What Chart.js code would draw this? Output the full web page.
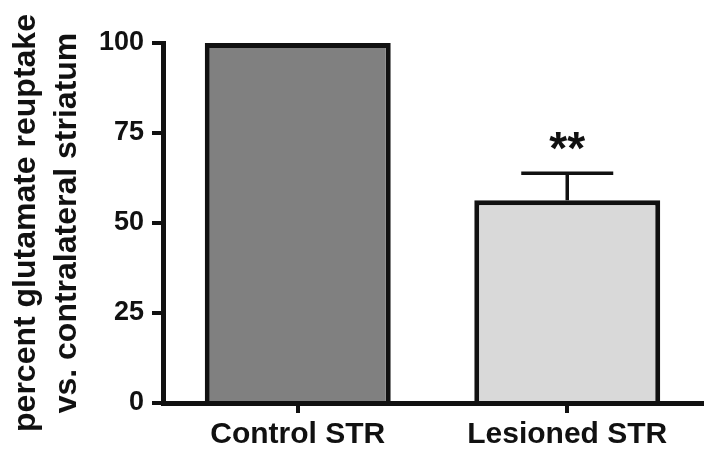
<!DOCTYPE html>
<html>
<head>
<meta charset="utf-8">
<script src="https://cdn.jsdelivr.net/npm/chart.js@4"></script>
<style>
  html, body { margin: 0; padding: 0; background: #fff; }
  #wrap { width: 714px; height: 458px; }
</style>
</head>
<body>
<div id="wrap"><canvas id="uptake"></canvas></div>
<script>
var categories = ['Control STR', 'Lesioned STR'];
var values = [100, 56.3];
var errors = [0, 7.5];
var marks = ['', '**'];
var barColors = ['#808080', '#d9d9d9'];
var yTicks = [0, 25, 50, 75, 100];
var yTitle = ['percent glutamate reuptake', 'vs. contralateral striatum'];

var ink = '#111111';

// error bars and significance stars, placed through the chart's scales
var errorBars = {
    id: 'errorBars',
    afterDatasetsDraw: function (chart) {
        var ctx = chart.ctx;
        var xs = chart.scales.x, ys = chart.scales.y;
        ctx.save();
        ctx.strokeStyle = ink;
        ctx.fillStyle = ink;
        ctx.lineWidth = 3.5;
        for (var i = 0; i < values.length; i++) {
            var cx = xs.getPixelForValue(i);
            var top = ys.getPixelForValue(values[i] + errors[i]);
            if (errors[i] > 0) {
                ctx.beginPath();
                ctx.moveTo(cx, ys.getPixelForValue(values[i]));
                ctx.lineTo(cx, top);
                ctx.moveTo(cx - 46, top);
                ctx.lineTo(cx + 46, top);
                ctx.stroke();
            }
            if (marks[i]) {
                ctx.font = 'bold 46px "Liberation Sans", Arial, sans-serif';
                ctx.textAlign = 'center';
                ctx.textBaseline = 'alphabetic';
                ctx.fillText(marks[i], cx, top - 9);
            }
        }
        ctx.restore();
    }
};

Chart.defaults.font.family = '"Liberation Sans", Arial, sans-serif';
Chart.defaults.color = ink;

var ctx = document.getElementById('uptake');
var myChart = new Chart(ctx, {
    type: 'bar',
    data: {
        labels: categories,
        datasets: [{
            data: values,
            backgroundColor: barColors,
            borderColor: ink,
            borderWidth: 5,
            borderSkipped: 'bottom',
            barPercentage: 0.69,
            categoryPercentage: 1.0
        }]
    },
    options: {
        responsive: true,
        maintainAspectRatio: false,
        animation: false,
        layout: { padding: { top: 43, right: 12, left: 0, bottom: 0 } },
        plugins: {
            legend: { display: false },
            tooltip: { enabled: false }
        },
        scales: {
            x: {
                grid: {
                    display: true,
                    drawOnChartArea: false,
                    offset: false,
                    tickLength: 10,
                    lineWidth: 4,
                    color: ink
                },
                border: { display: true, width: 5, color: ink },
                ticks: {
                    padding: 4,
                    font: { size: 30, weight: 'bold' },
                    color: ink
                },
                afterFit: function (scale) { scale.height = 55; }
            },
            y: {
                min: 0,
                max: 100,
                afterBuildTicks: function (scale) {
                    scale.ticks = yTicks.map(function (v) { return { value: v }; });
                },
                grid: {
                    display: true,
                    drawOnChartArea: false,
                    tickLength: 11,
                    lineWidth: 4,
                    color: ink
                },
                border: { display: true, width: 5, color: ink },
                ticks: {
                    padding: 8,
                    font: { size: 27, weight: 'bold' },
                    color: ink
                },
                title: {
                    display: true,
                    text: yTitle,
                    font: { size: 32, weight: 'bold', lineHeight: 1.28 },
                    color: ink,
                    padding: { top: 6, bottom: 0 }
                },
                afterFit: function (scale) { scale.width = 163; }
            }
        }
    },
    plugins: [errorBars]
});
</script>
</body>
</html>
